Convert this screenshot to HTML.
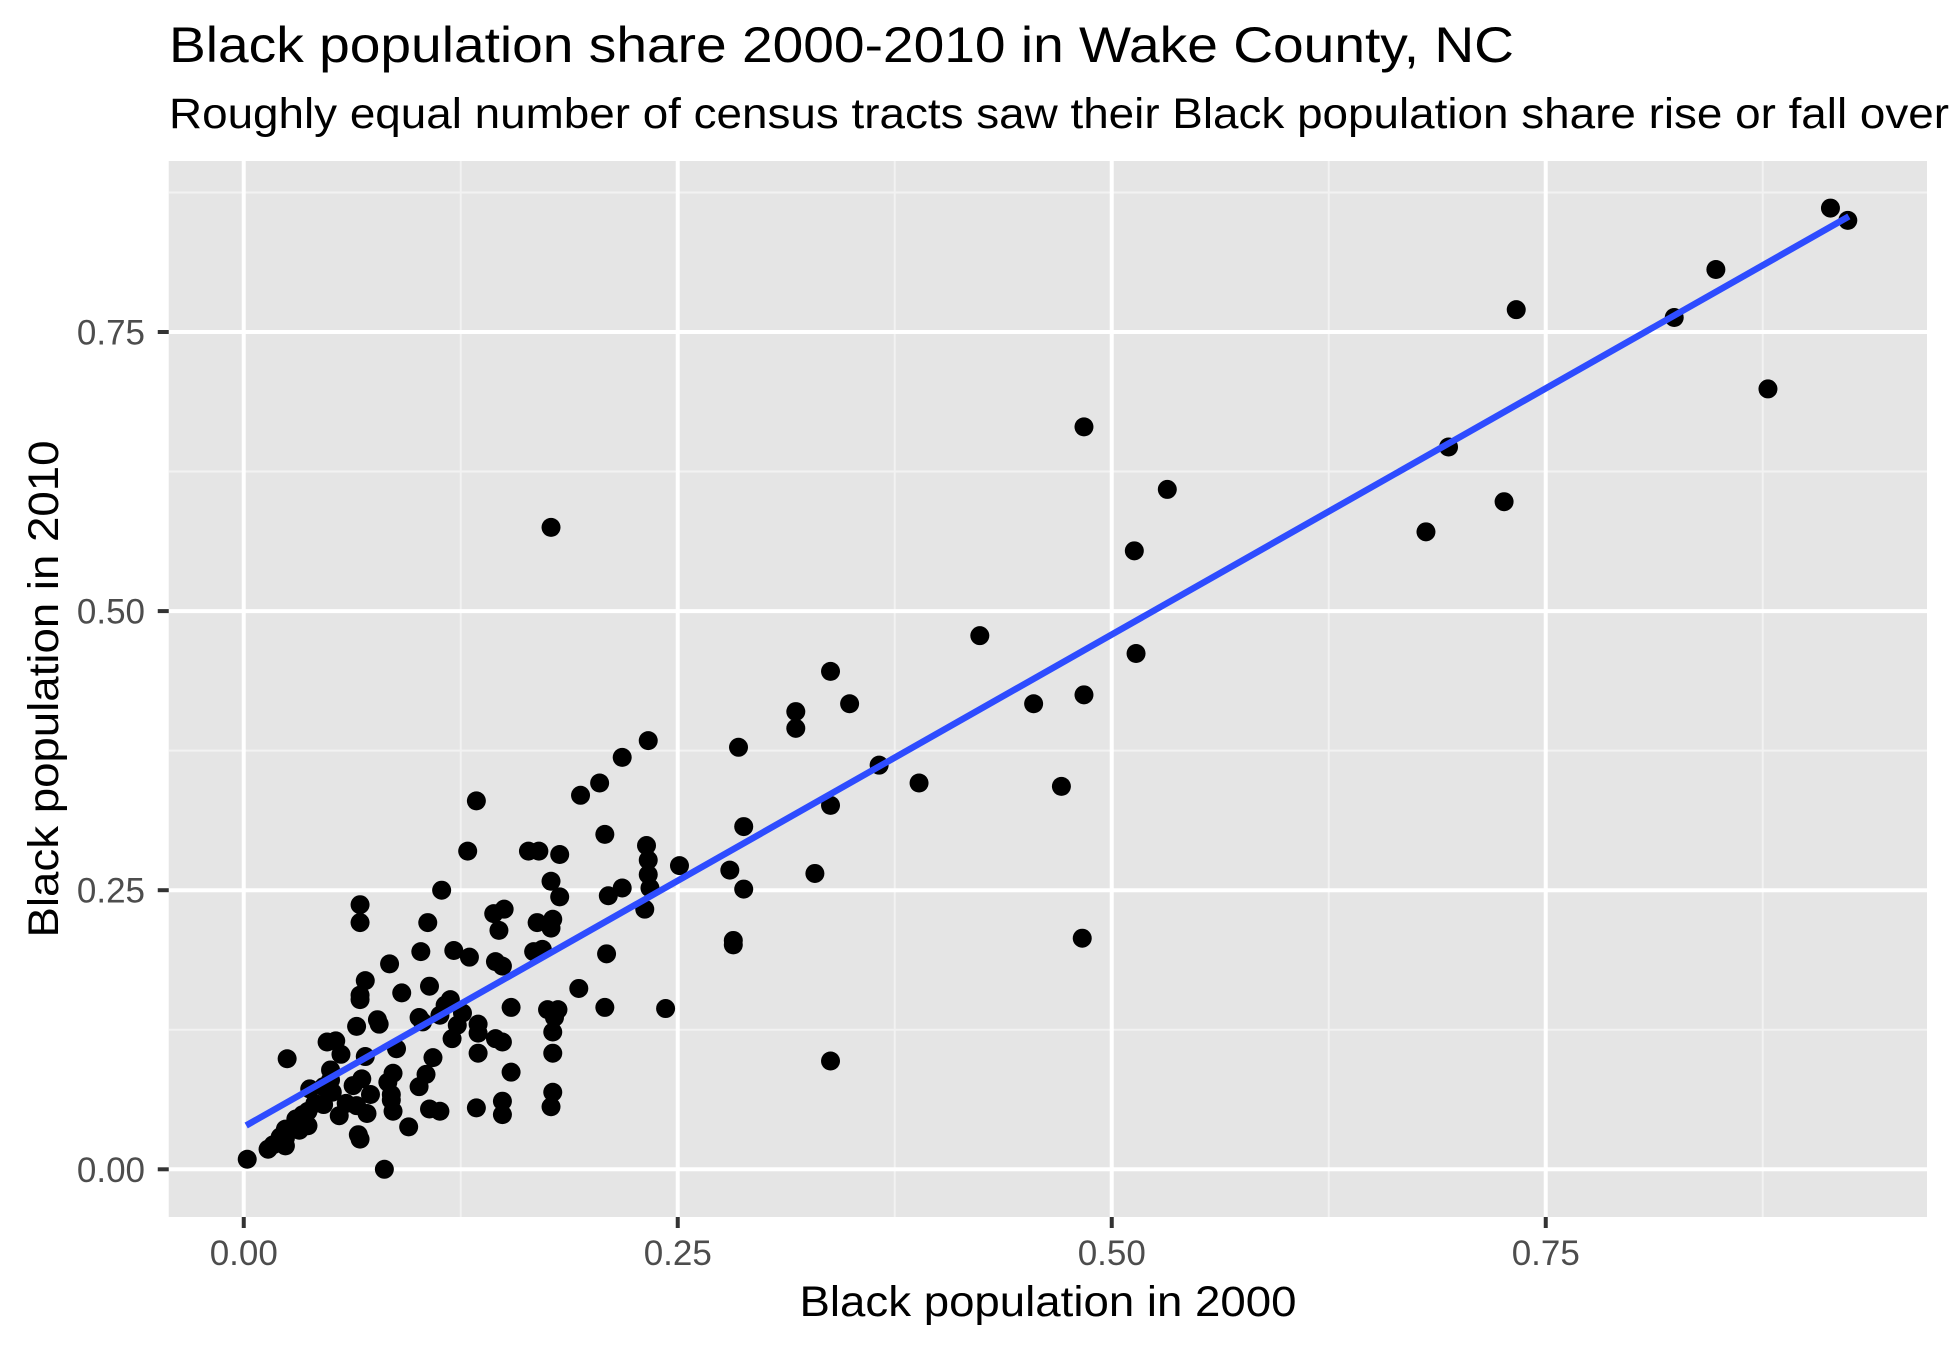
<!DOCTYPE html>
<html><head><meta charset="utf-8"><style>
html,body{margin:0;padding:0;background:#fff;}
svg{display:block;font-family:"Liberation Sans",Arial,sans-serif;}
</style></head><body>
<svg id="chart" width="1950" height="1349" viewBox="0 0 1950 1349">
<text x="169" y="62" font-size="50" fill="#000" textLength="1345" lengthAdjust="spacingAndGlyphs">Black population share 2000-2010 in Wake County, NC</text>
<text x="169" y="128" font-size="43" fill="#000"><tspan textLength="1780" lengthAdjust="spacingAndGlyphs">Roughly equal number of census tracts saw their Black population share rise or fall over</tspan><tspan> the decade</tspan></text>
<rect x="168.75" y="161" width="1758.25" height="1056" fill="#E5E5E5"/>
<g id="grid"></g>
<g id="axes"></g>
<g id="pts"></g>
<g id="fit"></g>
<text x="1048" y="1316" font-size="43" text-anchor="middle" textLength="497" lengthAdjust="spacingAndGlyphs" fill="#000">Black population in 2000</text>
<text x="0" y="0" font-size="43" text-anchor="middle" textLength="497" lengthAdjust="spacingAndGlyphs" fill="#000" transform="translate(58,689) rotate(-90)">Black population in 2010</text>
</svg>
<script>
const xVals=[0.914,0.924,0.848,0.733,0.824,0.878,0.484,0.694,0.532,0.726,0.681,0.177,0.513,0.514,0.424,0.338,0.349,0.318,0.318,0.455,0.484,0.366,0.389,0.471,0.285,0.233,0.218,0.205,0.194,0.134,0.338,0.288,0.208,0.129,0.164,0.170,0.182,0.251,0.329,0.280,0.232,0.233,0.233,0.234,0.288,0.218,0.210,0.177,0.114,0.067,0.067,0.106,0.150,0.144,0.182,0.178,0.231,0.147,0.169,0.177,0.172,0.167,0.209,0.145,0.149,0.121,0.102,0.084,0.130,0.070,0.119,0.091,0.107,0.116,0.103,0.154,0.208,0.243,0.193,0.282,0.282,0.483,0.338,0.025,0.048,0.053,0.067,0.067,0.065,0.077,0.078,0.056,0.070,0.088,0.101,0.113,0.126,0.120,0.123,0.135,0.135,0.135,0.145,0.149,0.154,0.134,0.149,0.149,0.177,0.178,0.178,0.179,0.178,0.181,0.175,0.086,0.083,0.085,0.086,0.068,0.073,0.071,0.066,0.067,0.065,0.050,0.050,0.051,0.046,0.063,0.059,0.055,0.046,0.041,0.038,0.037,0.034,0.030,0.029,0.024,0.024,0.032,0.037,0.021,0.024,0.017,0.014,0.002,0.081,0.095,0.107,0.113,0.101,0.109,0.105,0.085];
const yVals=[0.861,0.850,0.806,0.770,0.763,0.699,0.665,0.647,0.609,0.598,0.571,0.575,0.554,0.462,0.478,0.446,0.417,0.410,0.395,0.417,0.425,0.362,0.346,0.343,0.378,0.384,0.369,0.346,0.335,0.330,0.326,0.307,0.300,0.285,0.285,0.285,0.282,0.272,0.265,0.268,0.290,0.277,0.264,0.252,0.251,0.252,0.245,0.258,0.250,0.237,0.221,0.221,0.233,0.229,0.244,0.224,0.233,0.214,0.221,0.216,0.197,0.195,0.193,0.186,0.182,0.196,0.195,0.184,0.190,0.169,0.152,0.158,0.164,0.147,0.132,0.145,0.145,0.144,0.162,0.205,0.201,0.207,0.097,0.099,0.114,0.115,0.156,0.152,0.128,0.134,0.130,0.103,0.101,0.108,0.136,0.138,0.140,0.117,0.129,0.130,0.122,0.104,0.117,0.114,0.087,0.055,0.061,0.049,0.056,0.069,0.123,0.136,0.104,0.143,0.143,0.086,0.078,0.067,0.052,0.081,0.067,0.050,0.031,0.027,0.057,0.089,0.080,0.069,0.074,0.075,0.059,0.048,0.058,0.059,0.072,0.052,0.049,0.045,0.039,0.036,0.028,0.035,0.039,0.029,0.021,0.022,0.018,0.009,0.000,0.038,0.054,0.052,0.074,0.100,0.085,0.062];
const xTicks=[0,0.25,0.5,0.75];
const xTickLabels=["0.00","0.25","0.50","0.75"];
const yTicks=[0,0.25,0.5,0.75];
const yTickLabels=["0.00","0.25","0.50","0.75"];
const xMinor=[0.125,0.375,0.625,0.875];
const yMinor=[0.125,0.375,0.625,0.875];
const fitX=[0.0014,0.9246];
const fitIntercept=0.038;
const fitSlope=0.882;

const NS="http://www.w3.org/2000/svg";
const L=168.75,R=1927,T=161,B=1217;
function sx(v){return 243.75+v*1736;}
function sy(v){return 1169.3-v*1116.4;}
function mk(tag,attrs,parent){const e=document.createElementNS(NS,tag);for(const k in attrs)e.setAttribute(k,attrs[k]);parent.appendChild(e);return e;}
const grid=document.getElementById('grid'),axes=document.getElementById('axes'),fit=document.getElementById('fit'),pts=document.getElementById('pts');
xMinor.forEach(v=>{const e=mk('line',{x1:sx(v),x2:sx(v),y1:T,y2:B,stroke:'#F2F2F2','stroke-width':2},grid);

});
yMinor.forEach(v=>{const e=mk('line',{x1:L,x2:R,y1:sy(v),y2:sy(v),stroke:'#F2F2F2','stroke-width':2},grid);

});
xTicks.forEach((v,i)=>{const g=mk('line',{x1:sx(v),x2:sx(v),y1:T,y2:B,stroke:'#fff','stroke-width':4},grid);


const t=mk('line',{x1:sx(v),x2:sx(v),y1:B,y2:B+11,stroke:'#333','stroke-width':4},axes);


const l=mk('text',{x:sx(v),y:1265,'font-size':35,fill:'#4D4D4D','text-anchor':'middle'},axes);l.textContent=xTickLabels[i];

});
yTicks.forEach((v,i)=>{const g=mk('line',{x1:L,x2:R,y1:sy(v),y2:sy(v),stroke:'#fff','stroke-width':4},grid);


const t=mk('line',{x1:L-11,x2:L,y1:sy(v),y2:sy(v),stroke:'#333','stroke-width':4},axes);


const l=mk('text',{x:145,y:sy(v)+12.5,'font-size':35,fill:'#4D4D4D','text-anchor':'end'},axes);l.textContent=yTickLabels[i];

});
xVals.forEach((v,i)=>{const c=mk('circle',{cx:sx(v),cy:sy(yVals[i]),r:9.5,fill:'#000'},pts);

});
const ln=mk('line',{x1:sx(fitX[0]),y1:sy(fitIntercept+fitSlope*fitX[0]),x2:sx(fitX[1]),y2:sy(fitIntercept+fitSlope*fitX[1]),stroke:'#2E4CFF','stroke-width':6.5},fit);


</script>
</body></html>
